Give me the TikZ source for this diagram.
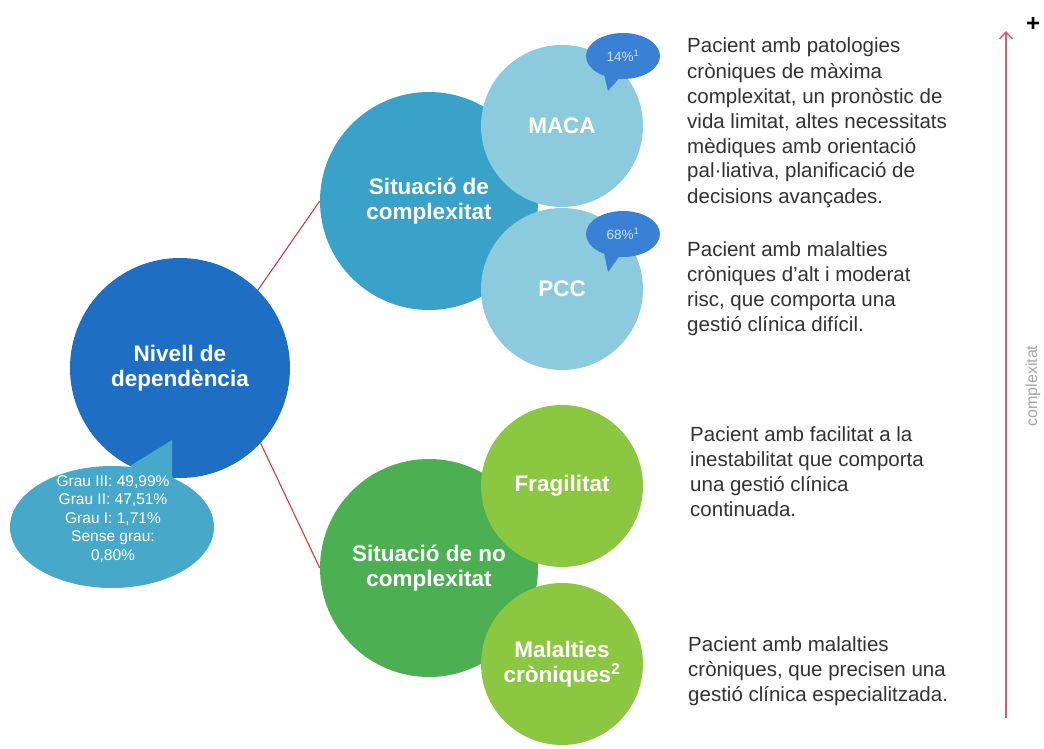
\documentclass[tikz,border=0pt]{standalone}
\usepackage{fontspec}
\setmainfont{Liberation Sans}
\usetikzlibrary{shapes.geometric,arrows.meta}
\definecolor{nivblue}{RGB}{30,111,196}
\definecolor{graublue}{RGB}{72,168,202}
\definecolor{scteal}{RGB}{58,162,200}
\definecolor{lightblue}{RGB}{140,202,222}
\definecolor{pctblue}{RGB}{58,128,212}
\definecolor{pcttext}{RGB}{205,225,245}
\definecolor{ncgreen}{RGB}{76,176,82}
\definecolor{lightgreen}{RGB}{140,199,66}
\definecolor{linkred}{RGB}{200,60,65}
\definecolor{arrowred}{RGB}{222,90,105}
\definecolor{desctext}{RGB}{50,50,50}
\definecolor{axisgray}{RGB}{165,165,165}
\tikzset{
  circlenode/.style={circle, inner sep=0pt, text=white, align=center,
    font=\fontsize{22.5}{25}\selectfont\bfseries},
  bigcircle/.style={circlenode, minimum size=218pt},
  smallcircle/.style={circlenode, minimum size=162pt},
  pctbubble/.style={ellipse, fill=pctblue, inner sep=0pt, minimum width=74pt,
    minimum height=46pt, text=pcttext, font=\fontsize{13.5}{14}\selectfont},
  desc/.style={anchor=base west, align=left, inner sep=0pt, text=desctext,
    font=\fontsize{20.5}{25}\selectfont},
  link/.style={draw=linkred, line width=1.1pt},
}
\begin{document}
\begin{tikzpicture}[x=1pt,y=-1pt]
\path[use as bounding box, fill=white] (0,0) rectangle (1044,749);

% main circles
\node[bigcircle, fill=nivblue, minimum size=220pt] (niv) at (180,368) {Nivell de\\dependència};
\node[bigcircle, fill=scteal] (sc) at (429,201) {Situació de\\complexitat};
\node[bigcircle, fill=ncgreen] (nc) at (429,568) {Situació de no\\complexitat};

% connectors
\draw[link] (niv.45) -- (sc.west);
\draw[link] (niv.-43) -- (nc.west);

% sub circles
\node[smallcircle, fill=lightblue] (maca) at (562,126) {MACA};
\node[smallcircle, fill=lightblue] (pcc) at (562,289) {PCC};
\node[smallcircle, fill=lightgreen] (frag) at (562,486) {Fragilitat};
\node[smallcircle, fill=lightgreen] (malc) at (562,664) {Malalties\\cròniques\textsuperscript{2}};

% percentage bubbles
\fill[pctblue] (603,70) -- (608,91) -- (621,76) -- cycle;
\node[pctbubble] (p14) at (623,56) {14\%\textsuperscript{1}};
\fill[pctblue] (603,248) -- (608,272) -- (621,254) -- cycle;
\node[pctbubble] (p68) at (623,234) {68\%\textsuperscript{1}};

% grau bubble
\fill[graublue] (130,466) -- (172,440) -- (172,482) -- cycle;
\node[ellipse, fill=graublue, inner sep=0pt, minimum width=204pt, minimum height=122pt] (grau) at (112,527) {};
\node[text=white, align=center, inner sep=0pt, font=\fontsize{15.5}{18.5}\selectfont] (grautxt) at (113,519)
  {Grau III: 49,99\%\\Grau II: 47,51\%\\Grau I: 1,71\%\\Sense grau:\\0,80\%};

% descriptions (anchored at the baseline of the last line)
\node[desc] (dmaca) at (687,203) {Pacient amb patologies\\cròniques de màxima\\complexitat, un pronòstic de\\vida limitat, altes necessitats\\mèdiques amb orientació\\pal·liativa, planificació de\\decisions avançades.};
\node[desc] (dpcc) at (687,331) {Pacient amb malalties\\cròniques d’alt i moderat\\risc, que comporta una\\gestió clínica difícil.};
\node[desc] (dfrag) at (690,516) {Pacient amb facilitat a la\\inestabilitat que comporta\\una gestió clínica\\continuada.};
\node[desc] (dmalc) at (688,701) {Pacient amb malalties\\cròniques, que precisen una\\gestió clínica especialitzada.};

% complexity axis
\coordinate (abot) at (1006,718);
\coordinate (atop) at (1006,31);
\draw[arrowred, line width=1.6pt, -{Straight Barb[length=7pt,width=13pt,line width=1.4pt]}] (abot) -- (atop);
\node[font=\fontsize{24}{24}\selectfont\bfseries, inner sep=0pt] (plus) at (1033,24) {+};
\node[rotate=90, text=axisgray, font=\fontsize{16}{16}\selectfont, inner sep=0pt] (axlabel) at (1033,386) {complexitat};
\end{tikzpicture}
\end{document}
